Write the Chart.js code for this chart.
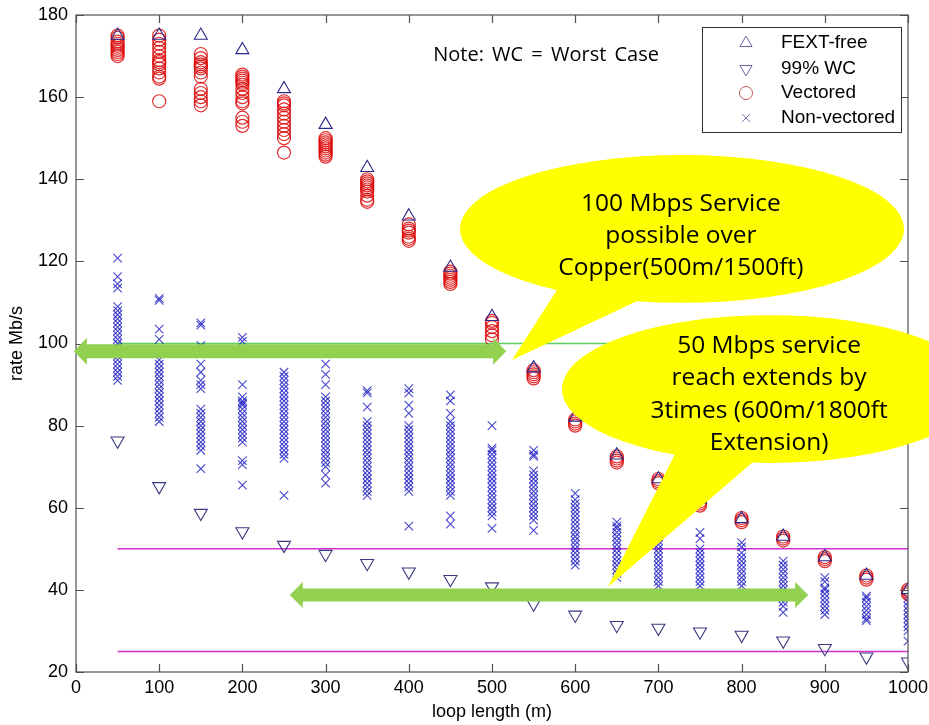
<!DOCTYPE html>
<html><head><meta charset="utf-8">
<script src="https://cdn.jsdelivr.net/npm/chart.js@4.4.1/dist/chart.umd.min.js"></script>
<style>html,body{margin:0;padding:0;background:#fff;overflow:hidden;}#wrap{width:929px;height:725px;}</style>
</head><body><div id="wrap"><canvas id="c" width="929" height="725" style="width:929px;height:725px;display:block"></canvas></div>
<script>
// ---- data ----
const loopLengths = [50,100,150,200,250,300,350,400,450,500,550,600,650,700,750,800,850,900,950,1000];
const fextFree = [175,175,175,171.5,162,153.3,142.8,131,118.5,106.5,94,82,72.8,67,62,57.3,53,48,43.5,40];
const worstCase99 = [76.3,65.2,58.7,54.2,50.9,48.7,46.5,44.4,42.6,40.8,36.6,33.9,31.4,30.7,29.8,29,27.6,25.8,23.7,22.5];
const vectored = [
  [175,174.5,173.5,173,172.5,172,171.5,171,170.5,170],
  [175,174,173,172,171,170,169,168.5,168,167,166,165,164.5,159],
  [170.5,169.5,168.5,168,167.5,167,166,165,162,161,160,159,158],
  [165.5,165,164.5,164,163.5,163,162,161,160,159,158.5,155,154,153],
  [159,158.5,158,157,156,155,154,153,152,151,150,146.5],
  [150,149.5,149,148.5,148,147.5,147,146.5,146,145.5],
  [140,139.5,139,138.5,138,137.5,137,136,135,134.5],
  [129,128,127.5,127,126,125.5,125],
  [117.5,117,116.5,116,115.5,115,114.5],
  [105.5,105,104,103,102,101],
  [93.5,93,92.5,92,91.5],
  [81.5,81,80.5,80],
  [72.5,72,71.5,71],
  [67,66.5,66],
  [61.5,61,60.5],
  [57.5,57,56.5],
  [53,52.5,52],
  [48,47.5,47],
  [43.5,43,42.5],
  [40,39.5,39]
];
const nonVectored = [
  [120.8,116.3,114.5,113.5,109,108,107,106,105,104,103,102,101,100,99,98,97,96,95,94,93,92,91],
  [111,110.5,103.5,101,96,95,94,93,92,91,90,89,88,87,86,85,84,83,82,81],
  [105,104.5,99.5,97.5,95,93,91,90,89,84,83,82,81,80,79,78,77,76,75,74,69.5],
  [101.5,100.5,90,87,86,85.5,85,84,83,82,81,80,79,78,77,76,71.5,70.5,65.5],
  [93,92,91,90,89,88,87,86,85,84,83,82,81,80,79,78,77,76,75,74,73,72,63],
  [95,92.5,90,87,86,85,84,83,82,81,80,79,78,77,76,75,74,73,72,71,70,68,66],
  [88.5,88,84.5,81,80,79,78,77,76,75,74,73,72,71,70,69,68,67,66,65,64,63],
  [89,88,85,83,80,79,78,77,76,75,74,73,72,71,70,69,68,67,66,65,64,55.5],
  [87.5,86,83,81,80,79,78,77,76,75,74,73,72,71,70,69,68,67,66,65,64,63,58,56],
  [80,74.5,74,73,72,71,70,69,68,67,66,65,64,63,62,61,60,59,58,55],
  [74,73,72.5,69,68,67,66,65,64,63,62,61,60,59,58,57,54.5],
  [63.5,62,61,60,59,58,57,56,55,54,53,52,51,50,49,48,47,46],
  [56.5,55.5,55,54,53,52,51,50,49,48,47,46,45,44,43],
  [57,56,55,54,53,52,51,50,49,48,47,46,45,44,43,42,41],
  [54,52.5,50,49,48,47,46,45,44,43,42,41],
  [51.5,50.5,49,48,47,46,45,44,43,42,41],
  [47,46,45,44,43,42,41,40,39,38,37,36,34.5],
  [43,42,40.5,40,39,38,37,36,35,34],
  [38.5,38,37,36,35,34,33,32.5],
  [38,37,36,35,34,33,32,31,30,27.5]
];
const xTicks = [0,100,200,300,400,500,600,700,800,900,1000];
const yTicks = [20,40,60,80,100,120,140,160,180];
const lineSpan = [50, 1000];
const greenLevel = 100;
const magentaLevels = [50, 25];
const seriesNames = ['FEXT-free','99% WC','Vectored','Non-vectored'];
const noteText = 'Note: WC = Worst Case';
const calloutA = ['100 Mbps Service','possible over','Copper(500m/1500ft)'];
const calloutB = ['50 Mbps service','reach extends by','3times (600m/1800ft','Extension)'];

// ---- build points ----
const pts = (arr) => arr.map((v,i)=>({x:loopLengths[i], y:v}));
const cluster = (arr) => { const out=[]; arr.forEach((vals,i)=>vals.forEach(v=>out.push({x:loopLengths[i],y:v}))); return out; };
const hline = (lvl) => lineSpan.map(x=>({x, y:lvl}));

const navy = '#2a2a8a';
const datasets = [
  {label:seriesNames[0], data:pts(fextFree), pointStyle:'triangle', pointRadius:7.5, borderColor:navy, backgroundColor:'rgba(0,0,0,0)', borderWidth:1.1, showLine:false},
  {label:seriesNames[1], data:pts(worstCase99), pointStyle:'triangle', rotation:180, pointRadius:7.5, borderColor:'#3a3a80', backgroundColor:'rgba(0,0,0,0)', borderWidth:1.1, showLine:false},
  {label:seriesNames[2], data:cluster(vectored), pointStyle:'circle', pointRadius:6.5, borderColor:'rgba(220,10,10,0.85)', backgroundColor:'rgba(0,0,0,0)', borderWidth:1.2, showLine:false},
  {label:seriesNames[3], data:cluster(nonVectored), pointStyle:'crossRot', pointRadius:6, borderColor:'rgba(10,10,190,0.75)', backgroundColor:'rgba(0,0,0,0)', borderWidth:1.1, showLine:false},
  {label:'100', data:hline(greenLevel), showLine:true, pointRadius:0, borderColor:'#5ed05e', borderWidth:1.3},
  {label:'50', data:hline(magentaLevels[0]), showLine:true, pointRadius:0, borderColor:'#d030d0', borderWidth:1.6},
  {label:'25', data:hline(magentaLevels[1]), showLine:true, pointRadius:0, borderColor:'#d030d0', borderWidth:1.6}
];

function arrow(ctx, x1, x2, y, sh, hh, hl){
  ctx.beginPath();
  ctx.moveTo(x1, y);
  ctx.lineTo(x1+hl, y-hh); ctx.lineTo(x1+hl, y-sh);
  ctx.lineTo(x2-hl, y-sh); ctx.lineTo(x2-hl, y-hh);
  ctx.lineTo(x2, y);
  ctx.lineTo(x2-hl, y+hh); ctx.lineTo(x2-hl, y+sh);
  ctx.lineTo(x1+hl, y+sh); ctx.lineTo(x1+hl, y+hh);
  ctx.closePath(); ctx.fill();
}
function callout(ctx, sx, sy, c){
  ctx.fillStyle = '#ffff00';
  const cx = sx.getPixelForValue(c.cx), cy = sy.getPixelForValue(c.cy);
  const rx = Math.abs(sx.getPixelForValue(c.cx + c.rx) - cx), ry = Math.abs(sy.getPixelForValue(c.cy + c.ry) - cy);
  ctx.beginPath(); ctx.ellipse(cx, cy, rx, ry, 0, 0, Math.PI*2); ctx.fill();
  ctx.beginPath();
  ctx.moveTo(sx.getPixelForValue(c.base[0][0]), sy.getPixelForValue(c.base[0][1]));
  ctx.lineTo(sx.getPixelForValue(c.tip[0]), sy.getPixelForValue(c.tip[1]));
  ctx.lineTo(sx.getPixelForValue(c.base[1][0]), sy.getPixelForValue(c.base[1][1]));
  ctx.closePath(); ctx.fill();
  ctx.fillStyle = '#000';
  ctx.font = '24.5px "Open Sans"';
  ctx.textAlign = 'center'; ctx.textBaseline = 'middle';
  const tx = sx.getPixelForValue(c.tx); let ty = sy.getPixelForValue(c.ty);
  c.lines.forEach((l,i)=>ctx.fillText(l, tx, ty + i*32.3));
}

const overlay = {
  id:'overlay',
  afterDraw(chart){
    const ctx = chart.ctx, a = chart.chartArea, sx = chart.scales.x, sy = chart.scales.y;
    ctx.save();
    ctx.strokeStyle = '#505050'; ctx.lineWidth = 1.2;
    ctx.strokeRect(a.left, a.top, a.right-a.left, a.bottom-a.top);
    ctx.beginPath();
    xTicks.forEach(v=>{ const p = Math.round(sx.getPixelForValue(v))+0.5;
      ctx.moveTo(p, a.bottom); ctx.lineTo(p, a.bottom-8); ctx.moveTo(p, a.top); ctx.lineTo(p, a.top+8); });
    yTicks.forEach(v=>{ const p = Math.round(sy.getPixelForValue(v))+0.5;
      ctx.moveTo(a.left, p); ctx.lineTo(a.left+8, p); ctx.moveTo(a.right, p); ctx.lineTo(a.right-8, p); });
    ctx.stroke();
    ctx.fillStyle = '#92d050';
    arrow(ctx, sx.getPixelForValue(-2.5), sx.getPixelForValue(517), sy.getPixelForValue(98.1), 7, 13.5, 13);
    arrow(ctx, sx.getPixelForValue(257), sx.getPixelForValue(880), sy.getPixelForValue(38.75), 6.5, 13, 13);
    callout(ctx, sx, sy, {cx:728.4, cy:127.9, rx:266.8, ry:18, base:[[582,114.25],[691.1,111.96]], tip:[524,96], tx:727, ty:134.0, lines:calloutA});
    callout(ctx, sx, sy, {cx:834.1, cy:88.9, rx:250, ry:18, base:[[722.4,74.07],[830.3,74.07]], tip:[639.4,40.7], tx:833, ty:99.35, lines:calloutB});
    ctx.fillStyle = '#000'; ctx.font = '20px "Open Sans"'; ctx.textAlign='center'; ctx.textBaseline='middle';
    try { ctx.wordSpacing = '3px'; } catch(e) {}
    ctx.fillText(noteText, sx.getPixelForValue(565), sy.getPixelForValue(170.3));
    try { ctx.wordSpacing = '0px'; } catch(e) {}
    const lw = 199, lh = 105, lx = a.right - 7 - lw, ly = a.top + 12;
    ctx.fillStyle = '#fff'; ctx.fillRect(lx, ly, lw, lh);
    ctx.strokeStyle = '#303030'; ctx.lineWidth = 1; ctx.strokeRect(lx+0.5, ly+0.5, lw, lh);
    const rows = [16, 42, 66, 91];
    const styles = [
      {pointStyle:'triangle', radius:7, rotation:0, borderWidth:1, color:'#6a6aa8'},
      {pointStyle:'triangle', radius:7, rotation:180, borderWidth:1, color:'#6a6aa8'},
      {pointStyle:'circle', radius:6.5, rotation:0, borderWidth:1, color:'#c05858'},
      {pointStyle:'crossRot', radius:6, rotation:0, borderWidth:1, color:'#7a7ab8'}
    ];
    ctx.font = '19px "Liberation Sans"'; ctx.textAlign='left'; ctx.textBaseline='middle';
    chart.data.datasets.slice(0,4).forEach((ds,i)=>{
      const y = ly + rows[i];
      const st = styles[i];
      ctx.strokeStyle = st.color; ctx.fillStyle = 'rgba(0,0,0,0)'; ctx.lineWidth = st.borderWidth;
      Chart.helpers.drawPoint(ctx, st, lx + 44, y);
      ctx.fillStyle = '#000';
      ctx.fillText(ds.label, lx + 79, y);
    });
    ctx.restore();
  }
};

new Chart(document.getElementById('c'), {
  type:'scatter',
  data:{datasets},
  options:{
    responsive:false, animation:false, devicePixelRatio:1,
    layout:{padding:{top:15, right:21, left:0, bottom:0}},
    plugins:{legend:{display:false}, tooltip:{enabled:false}},
    scales:{
      x:{type:'linear', min:0, max:1000,
        afterBuildTicks: s => { s.ticks = xTicks.map(v=>({value:v})); },
        afterFit: s => { s.height = 53; s.paddingLeft = 0; s.paddingRight = 0; },
        ticks:{font:{family:'Liberation Sans', size:18}, color:'#000', padding:5, maxRotation:0, autoSkip:false, callback:v=>String(v)},
        grid:{display:false, drawTicks:false}, border:{display:false},
        title:{display:true, text:'loop length (m)', font:{family:'Liberation Sans', size:18}, color:'#000', padding:{top:0,bottom:2}}},
      y:{type:'linear', min:20, max:180,
        afterBuildTicks: s => { s.ticks = yTicks.map(v=>({value:v})); },
        afterFit: s => { s.width = 76; s.paddingTop = 0; s.paddingBottom = 0; },
        ticks:{font:{family:'Liberation Sans', size:18}, color:'#000', padding:8, callback:v=>String(v)},
        grid:{display:false, drawTicks:false}, border:{display:false},
        title:{display:true, text:'rate Mb/s', font:{family:'Liberation Sans', size:18}, color:'#000', padding:{top:6,bottom:0}}}
    }
  },
  plugins:[overlay]
});
</script></body></html>
